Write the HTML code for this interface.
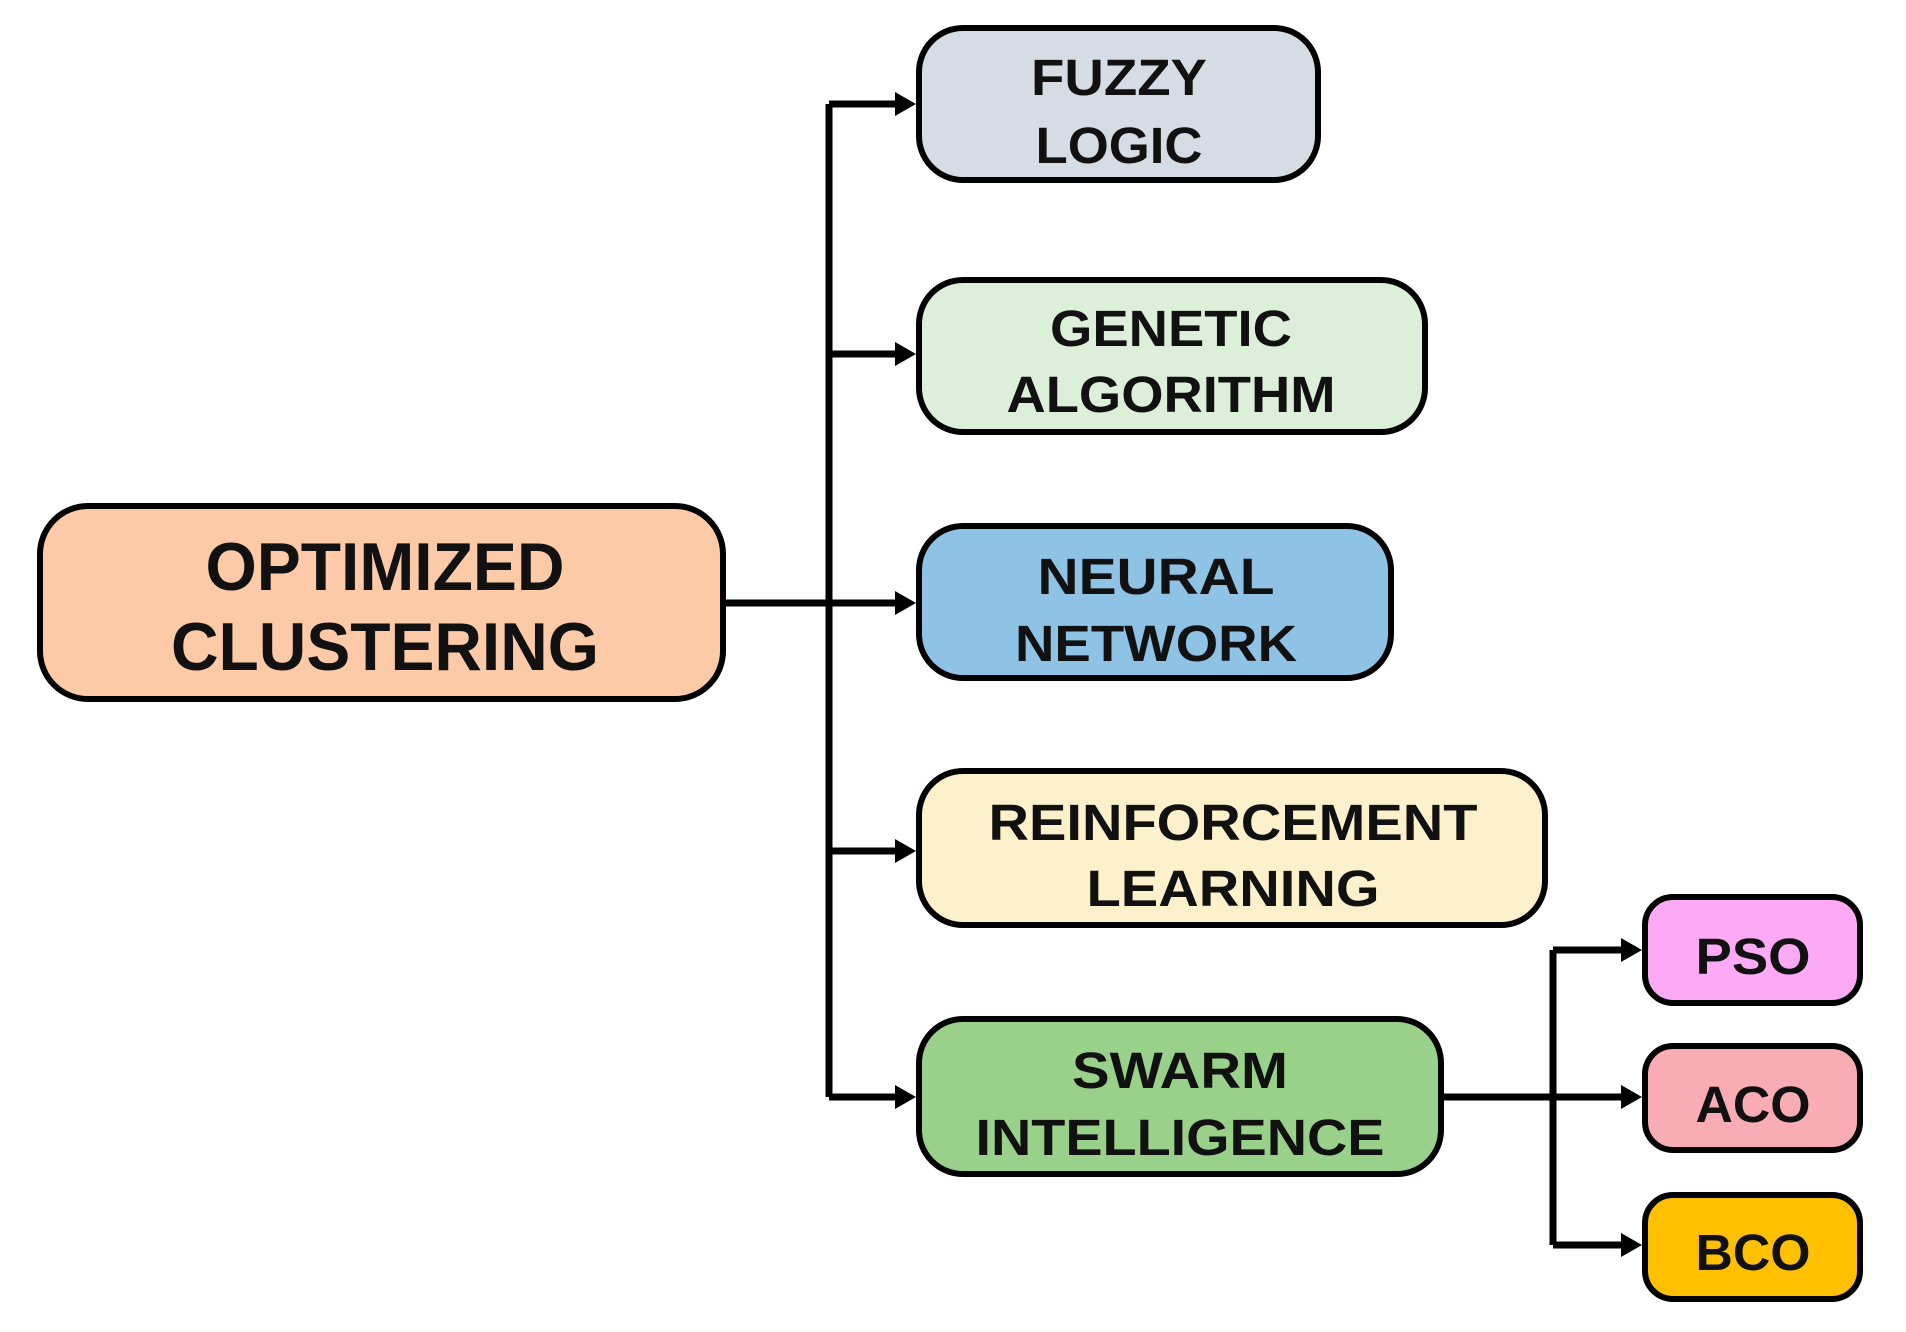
<!DOCTYPE html>
<html><head><meta charset="utf-8"><style>html,body{margin:0;padding:0;background:#fff}svg{display:block}</style></head>
<body>
<svg width="1906" height="1332" viewBox="0 0 1906 1332" xmlns="http://www.w3.org/2000/svg">
<g stroke="#000" stroke-width="7" fill="none">
<polyline points="829,104 829,1097"/>
<line x1="724" y1="603" x2="900" y2="603"/>
<line x1="829" y1="104" x2="900" y2="104"/>
<line x1="829" y1="354" x2="900" y2="354"/>
<line x1="829" y1="851" x2="900" y2="851"/>
<line x1="829" y1="1097" x2="900" y2="1097"/>
<polyline points="1553,950 1553,1245"/>
<line x1="1440" y1="1097" x2="1625" y2="1097"/>
<line x1="1553" y1="950" x2="1625" y2="950"/>
<line x1="1553" y1="1245" x2="1625" y2="1245"/>
</g>
<g fill="#000">
<path d="M895,92 L916,104 L895,116z"/><path d="M895,342 L916,354 L895,366z"/><path d="M895,591 L916,603 L895,615z"/>
<path d="M895,839 L916,851 L895,863z"/><path d="M895,1085 L916,1097 L895,1109z"/>
<path d="M1621,938 L1642,950 L1621,962z"/><path d="M1621,1085 L1642,1097 L1621,1109z"/><path d="M1621,1233 L1642,1245 L1621,1257z"/>
</g>
<g stroke="#000" stroke-width="6">
<rect x="40" y="506" width="683" height="193" rx="48" fill="#fdcaa8"/>
<rect x="919" y="28" width="399" height="152" rx="44" fill="#d6dce4"/>
<rect x="919" y="280" width="506" height="152" rx="44" fill="#dcefd8"/>
<rect x="919" y="526" width="472" height="152" rx="44" fill="#8ec3e6"/>
<rect x="919" y="771" width="626" height="154" rx="44" fill="#fdf1cc"/>
<rect x="919" y="1019" width="522" height="155" rx="44" fill="#99d18a"/>
<rect x="1645" y="897" width="215" height="106" rx="28" fill="#fcaaf5"/>
<rect x="1645" y="1046" width="215" height="104" rx="28" fill="#f9acb3"/>
<rect x="1645" y="1195" width="215" height="104" rx="28" fill="#fec000"/>
</g>
<g font-family="Liberation Sans, sans-serif" font-weight="bold" fill="#111" text-anchor="middle">
<text x="385" y="590" font-size="68" textLength="359" lengthAdjust="spacingAndGlyphs">OPTIMIZED</text>
<text x="385" y="670" font-size="68" textLength="428" lengthAdjust="spacingAndGlyphs">CLUSTERING</text>
<text x="1119" y="95" font-size="51" textLength="176" lengthAdjust="spacingAndGlyphs">FUZZY</text>
<text x="1119" y="163" font-size="51" textLength="167" lengthAdjust="spacingAndGlyphs">LOGIC</text>
<text x="1171" y="346" font-size="51" textLength="242" lengthAdjust="spacingAndGlyphs">GENETIC</text>
<text x="1171" y="412" font-size="51" textLength="329" lengthAdjust="spacingAndGlyphs">ALGORITHM</text>
<text x="1156" y="594" font-size="51" textLength="237" lengthAdjust="spacingAndGlyphs">NEURAL</text>
<text x="1156" y="661" font-size="51" textLength="282" lengthAdjust="spacingAndGlyphs">NETWORK</text>
<text x="1233" y="840" font-size="51" textLength="489" lengthAdjust="spacingAndGlyphs">REINFORCEMENT</text>
<text x="1233" y="906" font-size="51" textLength="293" lengthAdjust="spacingAndGlyphs">LEARNING</text>
<text x="1180" y="1088" font-size="51" textLength="216" lengthAdjust="spacingAndGlyphs">SWARM</text>
<text x="1180" y="1155" font-size="51" textLength="409" lengthAdjust="spacingAndGlyphs">INTELLIGENCE</text>
<text x="1753" y="974" font-size="51" textLength="115" lengthAdjust="spacingAndGlyphs">PSO</text>
<text x="1753" y="1122" font-size="51" textLength="115" lengthAdjust="spacingAndGlyphs">ACO</text>
<text x="1753" y="1270" font-size="51" textLength="115" lengthAdjust="spacingAndGlyphs">BCO</text>
</g>
</svg>
</body></html>
